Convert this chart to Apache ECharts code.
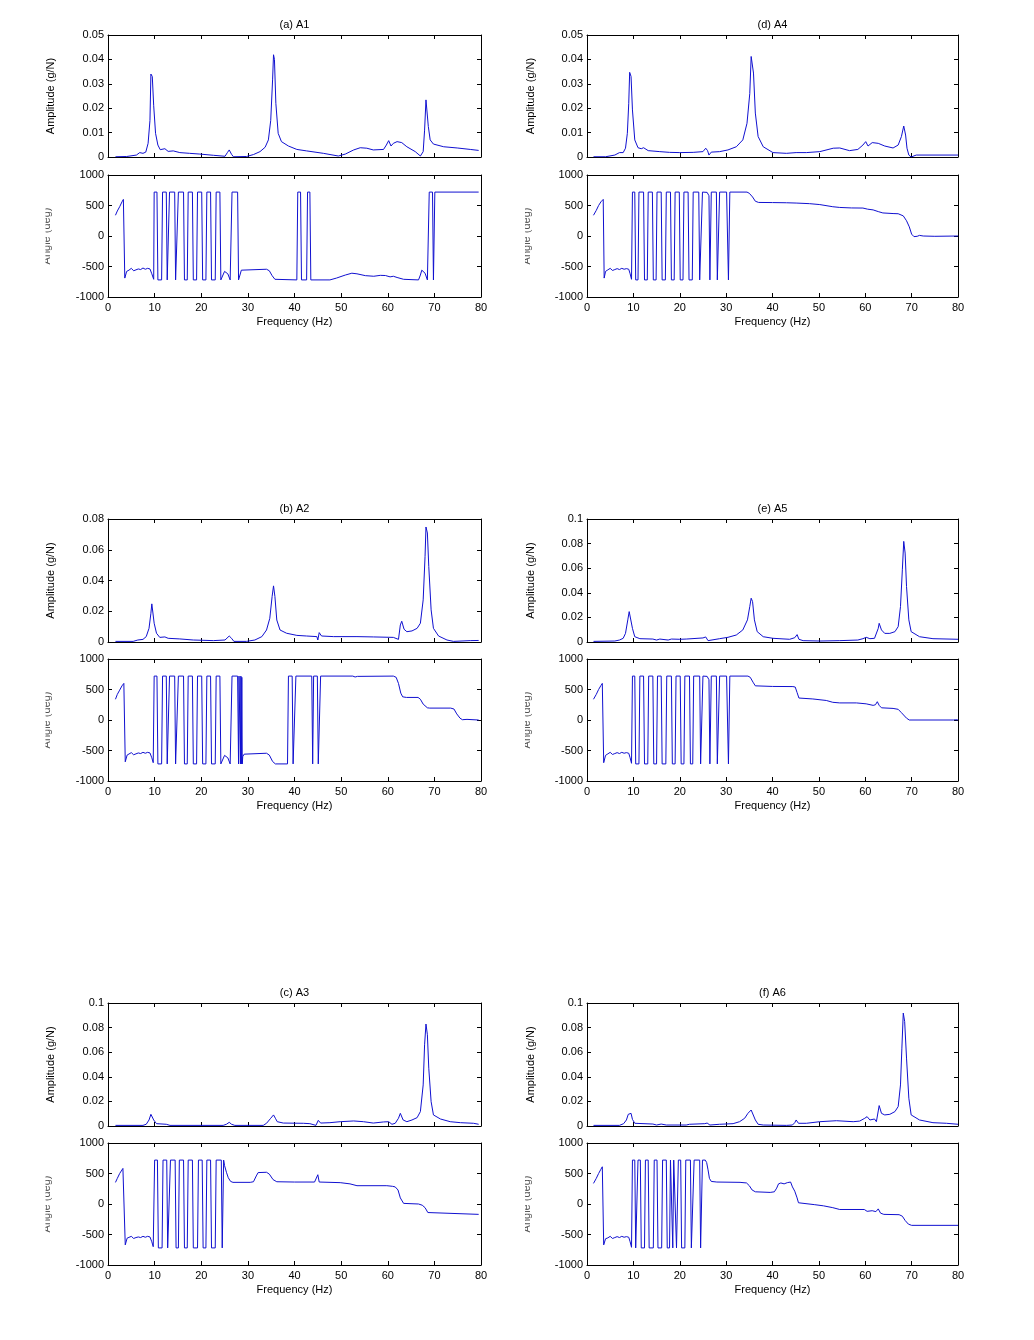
<!DOCTYPE html>
<html>
<head>
<meta charset="utf-8">
<script src="https://cdn.jsdelivr.net/npm/echarts@6/dist/echarts.min.js"></script>
<style>
html, body { margin: 0; padding: 0; background: #fff; }
#main { width: 1034px; height: 1340px; }
</style>
</head>
<body>
<div id="main"></div>
<script>
// ---- data: [frequency (Hz), value] ----
var ampA1 = [[1.6,0.0001],[4.0,0.0002],[6.1,0.0008],[6.8,0.0018],[7.5,0.0015],[8.1,0.002],[8.6,0.0056],[9.0,0.015],[9.2,0.034],[9.5,0.033],[9.8,0.021],[10.2,0.0097],[10.7,0.0049],[11.2,0.003],[12.2,0.0034],[12.9,0.0023],[14.0,0.0025],[15.4,0.0018],[17.5,0.0015],[19.7,0.0012],[22.6,0.0007],[25.1,0.0003],[25.6,0.0018],[26.0,0.0029],[26.5,0.0011],[26.9,0.0001],[29.7,0.0002],[31.2,0.001],[32.6,0.0022],[33.7,0.004],[34.4,0.007],[34.9,0.015],[35.3,0.0316],[35.5,0.0419],[35.7,0.040],[36.0,0.022],[36.5,0.0097],[37.2,0.0063],[38.7,0.0045],[40.5,0.0031],[42.6,0.0025],[46.2,0.0015],[49.4,0.0004],[50.9,0.0012],[52.7,0.0029],[54.1,0.0038],[55.5,0.0036],[56.9,0.0029],[59.1,0.0031],[59.7,0.0049],[60.2,0.0067],[60.7,0.0045],[61.2,0.0056],[62.0,0.0063],[63.0,0.0059],[64.1,0.0042],[65.9,0.0022],[67.0,0.0004],[67.6,0.0022],[67.9,0.011],[68.2,0.0234],[68.4,0.0227],[68.7,0.0125],[69.1,0.007],[69.8,0.0053],[72.0,0.0042],[74.9,0.0037],[77.7,0.0031],[79.5,0.0027]];
var phaseA1 = [[1.6,340],[2.0,410],[2.5,480],[3.0,560],[3.3,600],[3.6,-690],[4.0,-580],[4.5,-560],[5.0,-530],[5.5,-570],[6.0,-555],[6.5,-540],[7.0,-550],[7.5,-525],[8.0,-545],[8.5,-530],[9.0,-540],[9.4,-620],[9.8,-710],[9.9,720],[10.5,720],[10.7,-720],[11.5,-720],[11.7,720],[12.5,720],[12.7,-720],[13.0,-720],[13.2,720],[14.3,720],[14.5,-720],[14.9,-720],[15.1,720],[16.2,720],[16.4,-720],[17.0,-720],[17.2,720],[18.1,720],[18.3,-720],[19.0,-720],[19.2,720],[20.1,720],[20.3,-720],[21.0,-720],[21.2,720],[22.0,720],[22.2,-720],[23.0,-720],[23.2,720],[24.0,720],[24.2,-720],[24.6,-720],[25.0,-580],[25.3,-560],[25.7,-620],[26.2,-720],[26.4,-720],[26.6,720],[27.8,720],[28.0,-720],[28.3,-720],[28.6,-560],[29.0,-545],[34.0,-545],[34.6,-570],[35.2,-650],[35.8,-710],[36.2,-720],[40.5,-720],[40.7,720],[41.3,720],[41.5,-720],[42.6,-720],[42.8,720],[43.3,720],[43.5,-720],[47.6,-720],[49.0,-690],[50.9,-640],[52.3,-610],[53.4,-620],[55.2,-650],[57.0,-660],[58.4,-645],[59.5,-648],[60.5,-670],[61.2,-660],[62.0,-680],[63.4,-710],[66.6,-720],[67.0,-640],[67.3,-560],[68.0,-610],[68.5,-720],[68.7,-720],[68.9,720],[69.6,720],[69.8,-720],[69.9,-720],[70.1,720],[79.5,720]];

var ampA4 = [[1.4,0.0001],[4.0,0.0001],[6.0,0.0008],[7.0,0.0018],[7.8,0.0018],[8.3,0.0036],[8.7,0.0097],[9.0,0.022],[9.2,0.0347],[9.5,0.033],[9.8,0.0193],[10.3,0.007],[11.0,0.0038],[11.7,0.0034],[12.2,0.0038],[13.2,0.0026],[15.7,0.0022],[17.8,0.0019],[20.0,0.0018],[22.9,0.0019],[25.0,0.0022],[25.6,0.0036],[26.0,0.0026],[26.3,0.0008],[26.8,0.002],[28.6,0.0022],[30.4,0.0029],[32.2,0.0042],[33.6,0.007],[34.5,0.0138],[35.1,0.026],[35.4,0.0412],[35.7,0.042],[35.9,0.0344],[36.3,0.018],[36.9,0.0084],[38.0,0.0042],[40.1,0.0018],[43.0,0.0015],[45.1,0.0018],[47.3,0.0018],[50.2,0.0022],[53.1,0.0036],[54.5,0.0037],[56.6,0.0026],[58.4,0.0031],[59.5,0.0049],[60.1,0.0063],[60.6,0.0045],[61.5,0.0059],[62.8,0.0056],[64.2,0.0045],[66.0,0.0037],[67.1,0.0049],[67.8,0.0084],[68.3,0.0127],[68.7,0.009],[69.0,0.0036],[69.4,0.0008],[69.9,0.0],[70.3,0.0004],[71.0,0.0008],[80,0.0008]];
var phaseA4 = [[1.4,340],[2.0,420],[2.5,500],[3.0,560],[3.5,600],[3.7,-690],[4.0,-580],[4.5,-555],[5.0,-530],[5.5,-565],[6.0,-550],[6.5,-535],[7.0,-550],[7.5,-530],[8.0,-545],[8.5,-535],[9.0,-545],[9.3,-620],[9.6,-710],[9.8,720],[10.3,720],[10.5,-720],[11.0,-720],[11.2,720],[12.2,720],[12.4,-720],[13.0,-720],[13.2,720],[14.1,720],[14.3,-720],[14.9,-720],[15.1,720],[16.0,720],[16.2,-720],[16.9,-720],[17.1,720],[18.0,720],[18.2,-720],[18.8,-720],[19.0,720],[19.9,720],[20.1,-720],[20.7,-720],[20.9,720],[21.8,720],[22.0,-720],[22.7,-720],[22.9,720],[24.1,720],[24.3,-720],[24.7,-720],[24.9,720],[25.9,715],[26.3,660],[26.5,-720],[26.6,-720],[26.8,720],[27.9,720],[28.1,-720],[28.4,-720],[28.6,720],[30.1,720],[30.5,-720],[30.8,720],[34.5,720],[35.0,700],[35.7,640],[36.3,570],[37.0,550],[40.0,548],[43.0,545],[45.1,540],[48.0,530],[50.2,515],[53.0,480],[54.5,468],[57.0,460],[59.5,458],[60.5,440],[61.7,428],[62.8,400],[63.8,378],[66.0,368],[67.1,365],[68.2,330],[68.9,250],[69.5,150],[70.0,30],[70.5,-10],[71.2,-5],[71.7,10],[72.5,0],[75.0,-5],[80,0]];

var ampA2 = [[1.6,0.0004],[5.4,0.0004],[6.4,0.0013],[7.5,0.0017],[8.2,0.0035],[8.8,0.0089],[9.2,0.0187],[9.4,0.0248],[9.6,0.0235],[9.9,0.0122],[10.4,0.0057],[11.1,0.003],[12.2,0.0033],[12.9,0.0024],[15.4,0.002],[18.3,0.0013],[22.6,0.0009],[25.1,0.0013],[26.0,0.0039],[26.5,0.0024],[27.0,0.0004],[29.7,0.0004],[31.5,0.0013],[33.0,0.0035],[34.0,0.0078],[34.7,0.0154],[35.2,0.0296],[35.5,0.0365],[35.8,0.0296],[36.2,0.0143],[36.9,0.0078],[38.3,0.0057],[40.5,0.0043],[42.6,0.0039],[44.8,0.0035],[45.0,0.0013],[45.3,0.0061],[45.8,0.0039],[48.4,0.0035],[53.4,0.0035],[56.9,0.0033],[61.2,0.003],[62.3,0.0017],[62.7,0.0111],[63.0,0.0135],[63.5,0.0083],[64.1,0.0067],[65.2,0.0072],[66.3,0.0089],[67.0,0.0122],[67.6,0.0274],[68.0,0.0557],[68.2,0.0748],[68.5,0.0709],[68.8,0.0491],[69.3,0.0209],[69.8,0.0089],[70.9,0.0039],[72.7,0.0013],[74.1,0.0004],[77.7,0.0009],[79.5,0.001]];
var phaseA2 = [[1.6,340],[2.0,420],[2.5,490],[3.0,560],[3.4,600],[3.7,-685],[4.1,-575],[4.5,-560],[5.0,-535],[5.5,-570],[6.0,-555],[6.5,-540],[7.0,-550],[7.5,-530],[8.0,-545],[8.5,-530],[9.0,-540],[9.4,-620],[9.7,-700],[9.8,-720],[9.9,720],[10.5,720],[10.7,-720],[11.5,-720],[11.7,720],[12.5,720],[12.7,-720],[13.0,-720],[13.2,720],[14.3,720],[14.5,-720],[14.9,-720],[15.1,720],[16.2,720],[16.4,-720],[17.0,-720],[17.2,720],[18.1,720],[18.3,-720],[19.0,-720],[19.2,720],[20.1,720],[20.3,-720],[21.0,-720],[21.2,720],[22.0,720],[22.2,-720],[23.0,-720],[23.2,720],[24.0,720],[24.2,-720],[24.6,-720],[25.0,-580],[25.3,-560],[25.7,-620],[26.2,-720],[26.4,-720],[26.6,720],[27.8,720],[28.0,-720],[28.1,720],[28.3,720],[28.4,-720],[28.5,720],[28.6,-720],[28.7,700],[28.8,-720],[28.9,-600],[29.2,-560],[29.6,-545],[34.0,-545],[34.6,-575],[35.3,-680],[35.9,-720],[38.5,-720],[38.7,720],[39.5,720],[39.7,-720],[40.1,-720],[40.3,720],[43.7,720],[43.9,-720],[44.1,720],[44.9,720],[45.1,-720],[45.3,-690],[45.4,-720],[45.6,720],[52.5,720],[53.0,705],[53.5,715],[61.2,720],[61.8,700],[62.3,600],[62.8,440],[63.2,380],[64.0,370],[66.5,370],[67.0,340],[67.6,260],[68.5,200],[69.0,195],[73.5,195],[74.2,180],[74.8,100],[75.5,30],[76.0,5],[77.0,10],[79.5,0]];

var ampA5 = [[1.4,0.0005],[6.0,0.0008],[7.0,0.0016],[7.8,0.003],[8.3,0.007],[8.8,0.018],[9.1,0.0247],[9.4,0.024],[9.8,0.0111],[10.3,0.0043],[11.4,0.0027],[14.2,0.0024],[15.0,0.0016],[15.7,0.0024],[17.5,0.0016],[18.2,0.0024],[20.0,0.0022],[21.4,0.0024],[25.0,0.0033],[25.6,0.0041],[26.1,0.0011],[26.5,0.0016],[28.6,0.0027],[30.4,0.0038],[32.2,0.0057],[33.6,0.0098],[34.6,0.018],[35.1,0.0288],[35.4,0.0356],[35.7,0.0329],[36.1,0.018],[36.7,0.0084],[38.0,0.0043],[40.1,0.003],[43.7,0.0022],[44.8,0.0035],[45.3,0.006],[45.7,0.0022],[46.6,0.0011],[50.2,0.0008],[54.5,0.0011],[58.4,0.0016],[59.5,0.0027],[60.2,0.0038],[61.0,0.0027],[62.0,0.003],[62.4,0.0016],[62.8,0.0111],[63.0,0.0152],[63.5,0.0098],[64.2,0.007],[65.3,0.007],[66.4,0.0084],[67.1,0.0125],[67.6,0.0288],[68.0,0.0587],[68.3,0.0818],[68.6,0.0723],[68.9,0.0451],[69.4,0.018],[69.9,0.0084],[71.7,0.0043],[74.6,0.0027],[80,0.0022]];
var phaseA5 = [[1.4,340],[2.0,420],[2.5,500],[3.0,565],[3.3,600],[3.6,-700],[4.0,-580],[4.5,-555],[5.0,-530],[5.5,-565],[6.0,-550],[6.5,-535],[7.0,-550],[7.5,-530],[8.0,-545],[8.5,-535],[9.0,-545],[9.3,-620],[9.6,-710],[9.8,720],[10.3,720],[10.5,-720],[11.2,-720],[11.4,720],[12.2,720],[12.4,-720],[13.1,-720],[13.3,720],[14.2,720],[14.4,-720],[15.0,-720],[15.2,720],[16.0,720],[16.2,-720],[17.0,-720],[17.2,720],[18.2,720],[18.4,-720],[19.0,-720],[19.2,720],[20.1,720],[20.3,-720],[20.9,-720],[21.1,720],[22.1,720],[22.3,-720],[22.8,-720],[23.0,720],[24.3,720],[24.5,-720],[24.8,-720],[25.0,720],[25.9,715],[26.3,660],[26.5,-720],[26.6,-720],[26.8,720],[27.9,720],[28.1,-720],[28.4,-720],[28.6,720],[30.1,720],[30.5,-720],[30.8,720],[34.7,720],[35.2,700],[35.8,620],[36.3,560],[40.0,550],[44.4,548],[44.9,540],[45.3,450],[45.7,360],[48.7,345],[51.6,320],[53.0,290],[54.5,280],[58.1,280],[60.2,265],[61.7,240],[62.2,250],[62.6,300],[63.0,240],[63.5,200],[66.0,190],[67.1,175],[67.8,120],[68.9,30],[69.5,0],[79.0,0],[79.5,5],[80,0]];

var ampA3 = [[1.6,0.0005],[7.5,0.0005],[8.2,0.0014],[8.8,0.0049],[9.2,0.0095],[9.5,0.0098],[9.8,0.0049],[10.4,0.0019],[12.5,0.0014],[13.3,0.0005],[24.7,0.0005],[25.4,0.0014],[26.0,0.003],[26.5,0.0014],[27.2,0.0005],[33.3,0.0005],[34.0,0.0022],[34.9,0.0063],[35.5,0.009],[35.9,0.0063],[36.3,0.0035],[37.6,0.0024],[41.9,0.0022],[43.3,0.0019],[44.6,0.0005],[45.1,0.0046],[45.6,0.0024],[47.6,0.0027],[49.8,0.0035],[52.7,0.0041],[54.8,0.0035],[56.9,0.0024],[59.1,0.0033],[60.2,0.0035],[60.9,0.0014],[61.6,0.0022],[62.3,0.0063],[62.7,0.0103],[63.3,0.0049],[64.1,0.0035],[65.2,0.0049],[66.3,0.0068],[67.0,0.0117],[67.6,0.0334],[67.9,0.066],[68.2,0.0829],[68.5,0.0742],[68.8,0.047],[69.3,0.0198],[69.8,0.009],[71.3,0.0057],[73.4,0.0035],[75.6,0.0027],[78.4,0.0022],[79.5,0.0014]];
var phaseA3 = [[1.6,354],[2.0,420],[2.5,500],[3.2,583],[3.5,590],[3.7,-670],[4.1,-560],[4.5,-555],[5.0,-530],[5.5,-565],[6.0,-550],[6.5,-540],[7.0,-550],[7.5,-530],[8.0,-545],[8.5,-530],[9.0,-540],[9.4,-620],[9.7,-700],[9.8,-720],[10.0,720],[10.6,720],[10.8,-720],[11.6,-720],[11.8,720],[12.6,720],[12.8,-720],[13.2,-720],[13.4,720],[14.4,720],[14.6,-720],[15.1,-720],[15.3,720],[16.2,720],[16.4,-720],[17.0,-720],[17.2,720],[18.1,720],[18.3,-720],[19.2,-720],[19.4,720],[20.2,720],[20.4,-720],[21.0,-720],[21.2,720],[22.0,720],[22.2,-720],[23.0,-720],[23.2,720],[24.3,720],[24.5,-720],[24.6,-720],[24.8,720],[25.0,630],[25.4,520],[25.8,430],[26.3,370],[26.8,355],[30.5,355],[31.2,365],[31.8,460],[32.2,515],[34.0,520],[34.6,490],[35.4,400],[36.2,365],[40.0,360],[44.3,360],[44.6,340],[45.0,480],[45.3,360],[49.8,350],[51.9,330],[53.4,300],[59.8,300],[61.0,290],[61.6,280],[62.2,230],[62.7,100],[63.4,10],[66.6,0],[67.4,-20],[68.0,-60],[68.6,-140],[69.0,-165],[79.5,-170]];

var ampA6 = [[1.4,0.0005],[7.0,0.0005],[7.9,0.0019],[8.5,0.0049],[8.9,0.0095],[9.2,0.0111],[9.5,0.0103],[9.8,0.0054],[10.3,0.0022],[14.2,0.0016],[15.0,0.0008],[16.0,0.0016],[17.1,0.0008],[21.4,0.0008],[22.1,0.0014],[25.4,0.0019],[25.9,0.0024],[26.5,0.0008],[28.6,0.0014],[31.5,0.0019],[32.9,0.0035],[34.0,0.0063],[34.7,0.0103],[35.4,0.013],[35.8,0.0117],[36.3,0.0049],[36.9,0.0014],[38.0,0.0008],[43.0,0.0005],[44.3,0.0008],[44.8,0.0027],[45.1,0.0049],[45.6,0.0022],[47.3,0.0022],[50.2,0.0035],[53.8,0.0043],[57.4,0.0035],[58.8,0.004],[59.9,0.0063],[60.4,0.0076],[61.0,0.0049],[62.0,0.0057],[62.4,0.0035],[62.8,0.0122],[63.0,0.0166],[63.5,0.0103],[64.2,0.009],[65.3,0.0095],[66.4,0.0117],[67.1,0.0158],[67.6,0.0334],[67.9,0.0633],[68.2,0.0918],[68.5,0.085],[68.9,0.0552],[69.4,0.0226],[69.9,0.009],[71.7,0.0049],[74.6,0.0027],[77.5,0.0022],[80,0.0014]];
var phaseA6 = [[1.4,338],[2.0,420],[2.5,500],[3.0,570],[3.3,610],[3.6,-670],[4.0,-570],[4.5,-555],[5.0,-530],[5.5,-565],[6.0,-550],[6.5,-535],[7.0,-550],[7.5,-530],[8.0,-545],[8.5,-535],[9.0,-545],[9.3,-620],[9.6,-710],[9.8,720],[10.3,720],[10.5,-720],[10.8,-720],[11.0,720],[11.5,720],[11.7,-720],[12.4,-720],[12.6,720],[13.2,720],[13.4,-720],[14.3,-720],[14.5,720],[15.1,720],[15.3,-720],[16.1,-720],[16.3,720],[17.1,720],[17.3,-720],[17.8,-720],[18.0,720],[18.4,720],[18.5,-720],[18.6,-720],[18.7,720],[19.1,720],[19.3,-720],[19.5,-720],[19.7,720],[20.2,720],[20.4,-720],[21.1,-720],[21.3,720],[22.3,720],[22.5,-720],[22.9,-720],[23.1,720],[24.3,720],[24.5,-720],[24.7,-720],[24.9,720],[25.5,720],[25.8,680],[26.1,560],[26.4,420],[26.8,370],[28.0,360],[33.0,355],[34.4,345],[35.0,300],[35.6,230],[36.3,200],[39.5,190],[40.4,200],[40.9,260],[41.3,330],[41.8,345],[42.5,330],[43.2,350],[43.9,360],[44.3,280],[44.8,210],[45.3,100],[45.6,20],[46.0,0],[49.0,-10],[51.0,-30],[53.0,-60],[54.5,-90],[59.8,-90],[60.4,-120],[61.5,-110],[62.3,-125],[62.8,-80],[63.3,-150],[64.0,-170],[67.3,-175],[68.0,-200],[68.6,-270],[69.3,-330],[70.0,-350],[80,-350]];

// amplitude axis ranges per panel
var ampMaxA = [0.05, 0.05, 0.08, 0.1, 0.1, 0.1];
var ampStepA = [0.01, 0.01, 0.02, 0.02, 0.02, 0.02];
var titles = ['(a) A1', '(d) A4', '(b) A2', '(e) A5', '(c) A3', '(f) A6'];
var ampSets = [ampA1, ampA4, ampA2, ampA5, ampA3, ampA6];
var phaseSets = [phaseA1, phaseA4, phaseA2, phaseA5, phaseA3, phaseA6];

// ---- layout ----
var colLeft = [108, 587], colWidth = [373, 371];
var ampTop = [35, 519, 1003], ampHeight = [122, 123, 123];
var phaseTop = [175, 659, 1143], phaseHeight = 122;
var labelX = [51, 530.5];
var lineColor = '#1010d0';
var fontFam = '"Liberation Sans", Arial, Helvetica, sans-serif';

var grids = [], xAxes = [], yAxes = [], series = [], graphics = [];

function plainNum(v) {
    return String(v);
}

function addPlot(left, top, width, height, data, yMin, yMax, yStep, showX) {
    var g = grids.length;
    grids.push({ left: left, top: top, width: width, height: height, show: false });
    ['bottom', 'top'].forEach(function (pos) {
        xAxes.push({
            gridIndex: g, type: 'value', position: pos, min: 0, max: 80, interval: 10,
            axisLine: { show: true, onZero: false, lineStyle: { color: '#000', width: 1 } },
            axisTick: { show: true, inside: true, length: 4, lineStyle: { color: '#000', width: 1 } },
            axisLabel: { show: pos == 'bottom' && showX, margin: 5, fontSize: 11, color: '#000', fontFamily: fontFam },
            splitLine: { show: false }
        });
    });
    ['left', 'right'].forEach(function (pos) {
        yAxes.push({
            gridIndex: g, type: 'value', position: pos, min: yMin, max: yMax, interval: yStep,
            axisLine: { show: true, onZero: false, lineStyle: { color: '#000', width: 1 } },
            axisTick: { show: true, inside: true, length: 4, lineStyle: { color: '#000', width: 1 } },
            axisLabel: { show: pos == 'left', margin: 4, fontSize: 11, color: '#000', fontFamily: fontFam, formatter: plainNum },
            splitLine: { show: false }
        });
    });
    series.push({
        type: 'line', xAxisIndex: 2 * g, yAxisIndex: 2 * g, data: data,
        showSymbol: false, symbol: 'none', silent: true, animation: false,
        lineStyle: { color: lineColor, width: 1 }
    });
}

function addText(x, y, txt, rot, vAlign, color, z) {
    graphics.push({
        type: 'text', x: x, y: y, rotation: rot || 0, z: z || 10, silent: true,
        style: {
            text: txt, fill: color || '#000', font: '11px ' + fontFam,
            align: 'center', textAlign: 'center',
            verticalAlign: vAlign || 'middle', textVerticalAlign: vAlign || 'middle'
        }
    });
}

for (var i = 0; i < 6; i++) {
    var col = i % 2, row = Math.floor(i / 2);
    var L = colLeft[col], W = colWidth[col];
    addPlot(L, ampTop[row], W, ampHeight[row], ampSets[i], 0, ampMaxA[i], ampStepA[i], false);
    addPlot(L, phaseTop[row], W, phaseHeight, phaseSets[i], -1000, 1000, 500, true);

    var cx = L + W / 2;
    addText(cx, ampTop[row] - 10.5, titles[i]);
    addText(cx, phaseTop[row] + phaseHeight + 24.5, 'Frequency (Hz)');
    addText(labelX[col], ampTop[row] + ampHeight[row] / 2, 'Amplitude (g/N)', Math.PI / 2);
    // angle label, left half cut off as in the original figure
    var py = phaseTop[row] + phaseHeight / 2;
    addText(labelX[col] + 1.5, py, 'Angle (deg)', Math.PI / 2, 'bottom', '#555', 10);
    graphics.push({
        type: 'rect', z: 20, silent: true,
        shape: { x: labelX[col] - 20, y: py - 40, width: 14.5, height: 80 },
        style: { fill: '#fff' }
    });
}

var chart = echarts.init(document.getElementById('main'), null, { renderer: 'canvas' });
chart.setOption({
    backgroundColor: '#fff',
    animation: false,
    grid: grids,
    xAxis: xAxes,
    yAxis: yAxes,
    series: series,
    graphic: { elements: graphics }
});
</script>
</body>
</html>
